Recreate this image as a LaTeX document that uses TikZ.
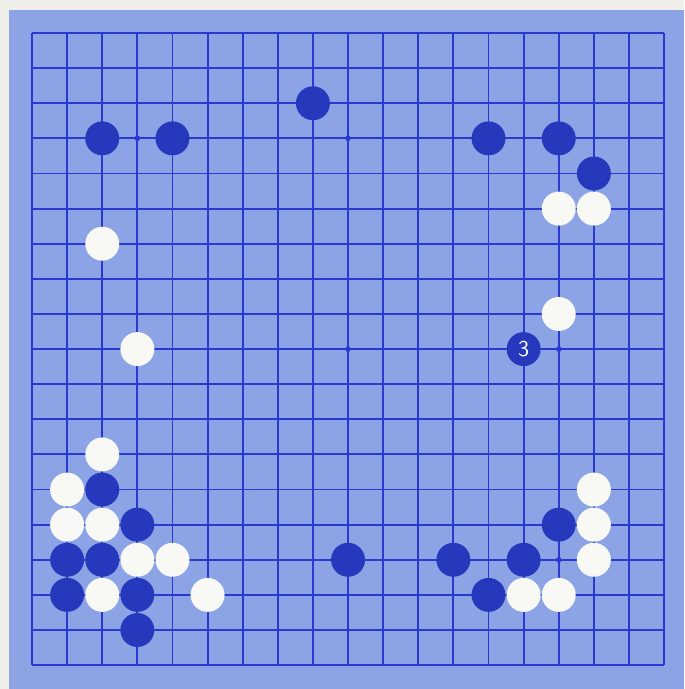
\documentclass[tikz,border=0pt]{standalone}
\usepackage{tikz}
\usetikzlibrary{positioning}
\definecolor{paper}{RGB}{240,238,232}
\definecolor{board}{RGB}{140,164,230}
\definecolor{gridblue}{RGB}{42,58,208}
\definecolor{stoneblue}{RGB}{38,56,188}
\definecolor{stonewhite}{RGB}{248,248,244}
\tikzset{
  bstone/.style={circle,fill=stoneblue,minimum size=0.58cm,inner sep=0pt},
  wstone/.style={circle,fill=stonewhite,minimum size=0.58cm,inner sep=0pt},
}
\begin{document}
\begin{tikzpicture}[x=0.6cm,y=0.6cm]
    \useasboundingbox (-0.911,0.94) rectangle (18.57,-18.68);
    \fill[paper] (-0.911,0.94) rectangle (18.57,-18.68);
    \fill[board] (-0.655,0.655) rectangle (18.57,-18.68); %盤
    \draw[step=1,gridblue,line width=0.9pt] (0,0) grid (18,-18);
    \foreach \x in {3,9,15}
    \foreach \y in {3,9,15}
    \fill[gridblue] (\x,-\y) circle (0.08); %星
    \foreach \c/\r [count=\i] in {9/3,3/4,5/4,14/4,16/4,17/5,3/14,4/15,2/16,3/16,2/17,4/17,4/18,10/16,13/16,15/16,16/15,14/17}
    \node[bstone] (b\i) at (\c-1,1-\r) {}; %黒
    \foreach \c/\r [count=\i] in {16/6,17/6,3/7,16/9,4/10,3/13,2/14,2/15,3/15,4/16,5/16,3/17,6/17,17/14,17/15,17/16,15/17,16/17}
    \node[wstone] (w\i) at (\c-1,1-\r) {}; %白
    \node[bstone,text=white,font=\fontsize{11}{11}\sffamily] (m3) at (14,-9) {3};
\end{tikzpicture}
\end{document}
